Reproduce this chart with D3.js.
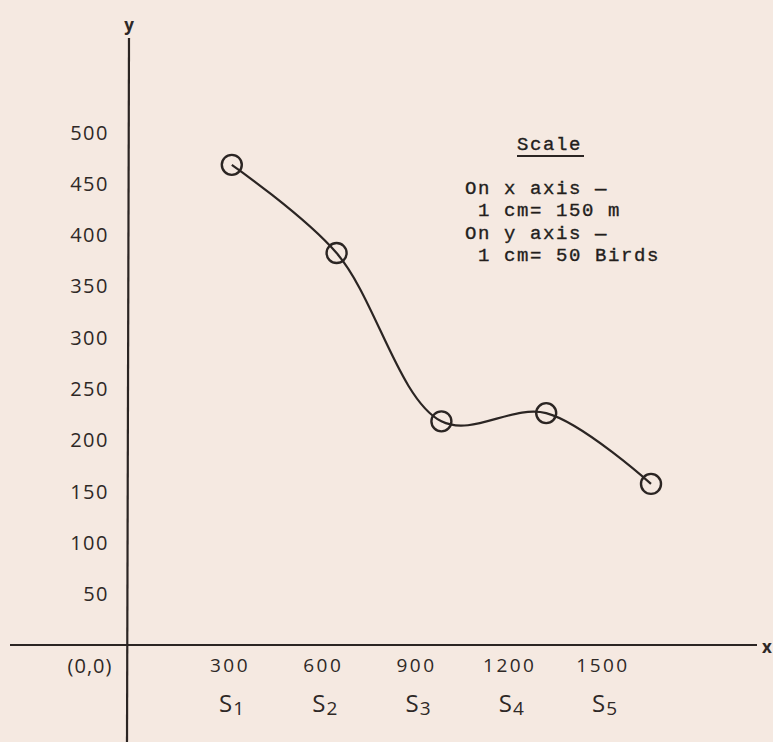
<!DOCTYPE html>
<html>
<head>
<meta charset="utf-8">
<script src="https://cdn.jsdelivr.net/npm/d3@7"></script>
<style>
  html, body { margin: 0; padding: 0; background: #f5e9e1; }
  svg { display: block; }
  .hand { font-family: "Open Sans", "DejaVu Sans", sans-serif; fill: #2e2826; }
  .type { font-family: "Liberation Mono", "DejaVu Sans Mono", monospace; fill: #231e1c; white-space: pre; stroke: #231e1c; stroke-width: 0.35; }
</style>
</head>
<body>
<svg id="chart" width="773" height="742"></svg>
<script>
// ---- data ----
const stations = ["S1", "S2", "S3", "S4", "S5"];
const distances = [300, 600, 900, 1200, 1500];      // metres
const birds = [468, 382, 218, 226, 157];             // number of birds
const yTicks = [50, 100, 150, 200, 250, 300, 350, 400, 450, 500];
const xTickLabels = ["300", "600", "900", "1200", "1500"];
const scaleNote = ["On x axis —", " 1 cm= 150 m", "On y axis —", " 1 cm= 50 Birds"];

const W = 773, H = 742;
const ink = "#2b2523";
const svg = d3.select("#chart");
svg.append("rect").attr("width", W).attr("height", H).attr("fill", "#f5e9e1");

const x = d3.scaleLinear().domain([0, 1500]).range([127, 651]);
const y = d3.scaleLinear().domain([0, 500]).range([645, 132]);
// hand-lettered tick labels drift left of the true positions
const xLab = d3.scaleLinear().domain([300, 1500]).range([230, 603]);

// axes
svg.append("line").attr("x1", 10).attr("x2", 757)
  .attr("y1", y(0)).attr("y2", y(0))
  .attr("stroke", ink).attr("stroke-width", 2.2);
svg.append("line").attr("x1", x(0) + 2).attr("x2", x(0))
  .attr("y1", 38).attr("y2", H)
  .attr("stroke", ink).attr("stroke-width", 2.2);

svg.append("text").attr("class", "hand").attr("x", 767).attr("y", y(0) + 1)
  .attr("text-anchor", "middle").attr("dominant-baseline", "central")
  .attr("font-size", 17).attr("font-weight", 700).attr("fill", ink).text("x");
svg.append("text").attr("class", "hand").attr("x", 129).attr("y", 24)
  .attr("text-anchor", "middle").attr("dominant-baseline", "central")
  .attr("font-size", 17).attr("font-weight", 700).attr("fill", ink).text("y");

// y tick labels
svg.append("g").selectAll("text").data(yTicks).join("text")
  .attr("class", "hand")
  .attr("x", 109).attr("y", d => y(d))
  .attr("text-anchor", "end").attr("dominant-baseline", "central")
  .attr("font-size", 20).attr("letter-spacing", 1.5).text(d => d);

// origin label
svg.append("text").attr("class", "hand")
  .attr("x", 90).attr("y", 665)
  .attr("text-anchor", "middle").attr("dominant-baseline", "central")
  .attr("font-size", 20).attr("letter-spacing", 1).text("(0,0)");

// x tick labels
svg.append("g").selectAll("text").data(distances).join("text")
  .attr("class", "hand")
  .attr("x", d => xLab(d)).attr("y", 665)
  .attr("text-anchor", "middle").attr("dominant-baseline", "central")
  .attr("font-size", 19).attr("letter-spacing", 2.5).text((d, i) => xTickLabels[i]);

// station labels with subscripts
const st = svg.append("g").selectAll("text").data(distances).join("text")
  .attr("class", "hand")
  .attr("x", d => xLab(d) - 11).attr("y", 712)
  .attr("font-size", 24);
st.append("tspan").text((d, i) => stations[i].charAt(0));
st.append("tspan").attr("dy", 3).attr("dx", 1).attr("font-size", 19)
  .text((d, i) => stations[i].slice(1));

// curve
const pts = distances.map((d, i) => [d, birds[i]]);
const line = d3.line().x(d => x(d[0])).y(d => y(d[1]))
  .curve(d3.curveCatmullRom.alpha(0.5));
svg.append("path").attr("d", line(pts))
  .attr("fill", "none").attr("stroke", ink).attr("stroke-width", 2.2);

// circles
svg.append("g").selectAll("circle").data(pts).join("circle")
  .attr("cx", d => x(d[0])).attr("cy", d => y(d[1])).attr("r", 10)
  .attr("fill", "none").attr("stroke", ink).attr("stroke-width", 2.4);

// scale note
svg.append("text").attr("class", "type")
  .attr("x", 517).attr("y", 150)
  .attr("font-size", 19).attr("letter-spacing", 1.6).text("Scale");
svg.append("line").attr("x1", 517).attr("x2", 584)
  .attr("y1", 156).attr("y2", 156)
  .attr("stroke", ink).attr("stroke-width", 2);
svg.append("g").selectAll("text").data(scaleNote).join("text")
  .attr("class", "type")
  .attr("x", 465).attr("y", (d, i) => 194 + i * 22.3)
  .attr("font-size", 19).attr("letter-spacing", 1.6)
  .attr("xml:space", "preserve")
  .text(d => d);
</script>
</body>
</html>
